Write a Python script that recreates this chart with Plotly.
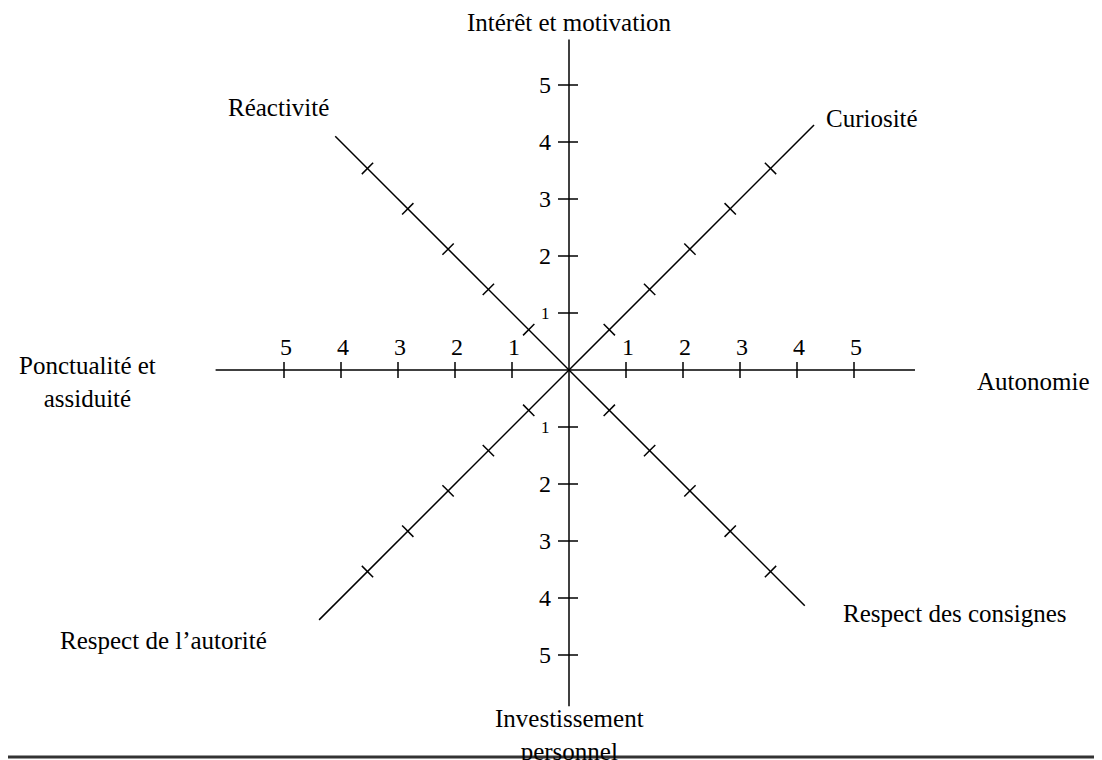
import math
import plotly.graph_objects as go

# ---- data ----
categories = ["Autonomie", "Curiosité", "Intérêt et motivation", "Réactivité",
              "Ponctualité et<br>assiduité", "Respect de l’autorité",
              "Investissement<br>personnel", "Respect des consignes"]
angles_deg = [0, 45, 90, 135, 180, 225, 270, 315]
scale_ticks = [1, 2, 3, 4, 5]
labelled_axes = [0, 90, 180, 270]   # axes that carry numeric tick labels

# ---- geometry (page pixel helpers; page body has an 8px margin) ----
OFF = 8
W, H = 1102 - OFF, 760 - OFF
CXp, CYp = 569, 370          # centre in page pixels
U = 57.0                     # px per scale unit
axis_len = {0: 6.07, 45: 6.08, 90: 5.8, 135: 5.8, 180: 6.2, 225: 6.2, 270: 5.9, 315: 5.85}
tick_half = 8 / U

def px(xp, yp):
    return ((xp - CXp) / U, (CYp - yp) / U)

fig = go.Figure()

# axis lines
lx, ly = [], []
for a in angles_deg:
    r = math.radians(a)
    L = axis_len[a]
    lx += [0, L * math.cos(r), None]
    ly += [0, L * math.sin(r), None]
fig.add_trace(go.Scatter(x=lx, y=ly, mode="lines", line=dict(color="black", width=1.5),
                         hoverinfo="skip", showlegend=False))

# tick marks
tx, ty = [], []
for a in angles_deg:
    r = math.radians(a)
    c, s = math.cos(r), math.sin(r)
    pcx, pcy = -s, c
    for v in scale_ticks:
        bx, by = v * c, v * s
        if a in (90, 270):
            tx += [bx - 11 / U, bx + 9 / U, None]
            ty += [by, by, None]
        else:
            tx += [bx - pcx * tick_half, bx + pcx * tick_half, None]
            ty += [by - pcy * tick_half, by + pcy * tick_half, None]
fig.add_trace(go.Scatter(x=tx, y=ty, mode="lines", line=dict(color="black", width=1.5),
                         hoverinfo="skip", showlegend=False))

font_main = "Liberation Serif, Times New Roman, serif"
annotations = []
# numeric tick labels
for a in labelled_axes:
    r = math.radians(a)
    c, s = round(math.cos(r)), round(math.sin(r))
    for v in scale_ticks:
        bx, by = v * c, v * s
        if a in (0, 180):
            x, y = bx + 2 / U, by + 23 / U
            size = 24
        else:
            x, y = bx - 24 / U, by
            size = 17 if v == 1 else 24
        annotations.append(dict(x=x, y=y, text=str(v), showarrow=False,
                                font=dict(family=font_main, size=size, color="black"),
                                xanchor="center", yanchor="middle"))

# category labels (page pixel positions, anchor)
label_px = {0: (1092, 381, "right"), 45: (872, 118, "center"), 90: (569, 22, "center"),
            135: (278, 107, "center"), 180: (87, 382, "center"), 225: (163, 640, "center"),
            270: (569, 735, "center"), 315: (955, 613, "center")}
for cat, a in zip(categories, angles_deg):
    xp, yp, anc = label_px[a]
    x, y = px(xp, yp)
    annotations.append(dict(x=x, y=y, text=cat, showarrow=False,
                            font=dict(family=font_main, size=25, color="black"),
                            xanchor=anc, yanchor="middle", align="center"))

x0, y0 = px(OFF, OFF + H)
x1, y1 = px(OFF + W, OFF)
line_y = (OFF + H - 757) / H
fig.update_layout(
    width=W, height=H, margin=dict(l=0, r=0, t=0, b=0),
    paper_bgcolor="white", plot_bgcolor="white",
    xaxis=dict(range=[x0, x1], visible=False, fixedrange=True),
    yaxis=dict(range=[y0, y1], visible=False, fixedrange=True),
    annotations=annotations,
    shapes=[dict(type="line", xref="paper", yref="paper", x0=-0.01, x1=1.01,
                 y0=line_y, y1=line_y, line=dict(color="#333333", width=3), layer="above")],
    showlegend=False,
)
fig.write_html("out.html")
